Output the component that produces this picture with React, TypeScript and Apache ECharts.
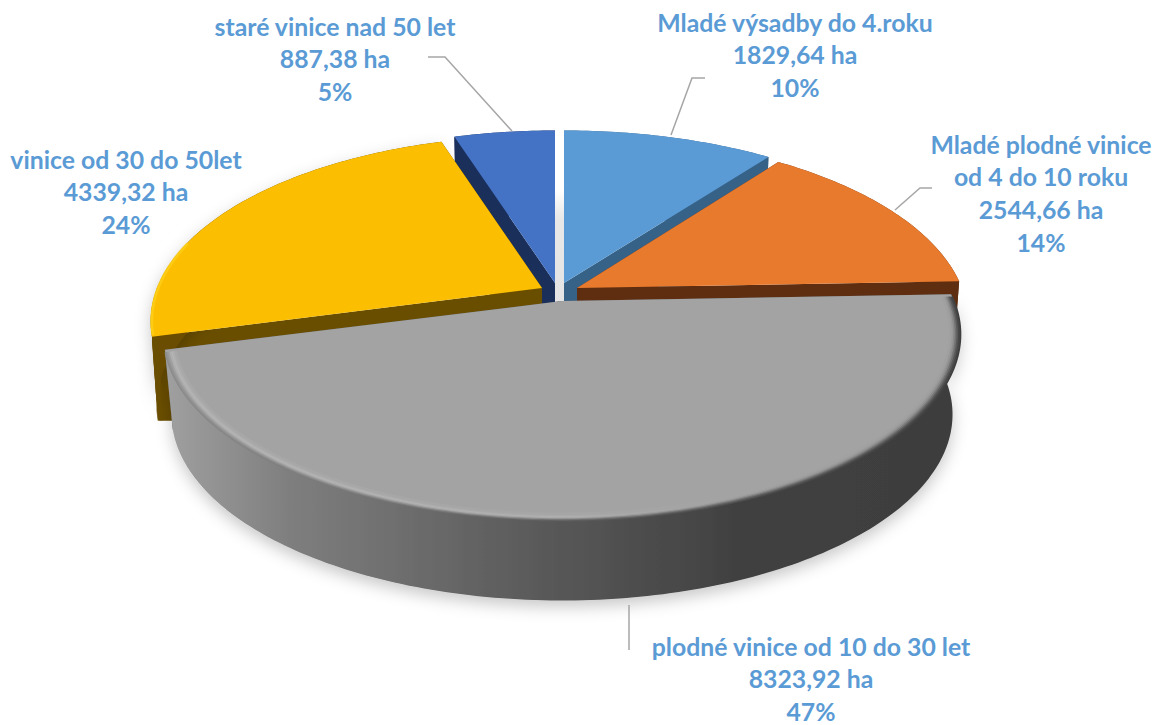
import React, { useEffect, useRef } from "react";
import * as echarts from "echarts";

const categories = [
  "Mladé výsadby do 4.roku",
  "Mladé plodné vinice\nod 4 do 10 roku",
  "plodné vinice od 10 do 30 let",
  "vinice od 30 do 50let",
  "staré vinice nad 50 let",
];
const hectares = [1829.64, 2544.66, 8323.92, 4339.32, 887.38];
const hectareLabels = ["1829,64 ha", "2544,66 ha", "8323,92 ha", "4339,32 ha", "887,38 ha"];
const percentLabels = ["10%", "14%", "47%", "24%", "5%"];

const W = 1161, H = 725;
const LABEL_COLOR = "#5b9bd5";
const LEADER = "#a6a6a6";
const k = 0.18;

type Layout = {
  cx: number; cy: number; a: number; b: number; depth: number; order: number; sx: number;
  top: string; wall: string; label: [number, number]; leader: number[][];
};
const layouts: Layout[] = [
  { cx: 564, cy: 283, a: 391, b: 180, depth: 84, order: 2, sx: 0.985, top: "#5b9bd5", wall: "#366288", label: [795, 22], leader: [[671, 135], [692, 78], [705, 78]] },
  { cx: 577, cy: 288, a: 385, b: 180, depth: 50, order: 3, sx: 0.99, top: "#e87a2e", wall: "#5f2e10", label: [1041, 144], leader: [[895, 210], [920, 188], [932, 188]] },
  { cx: 562, cy: 301, a: 392, b: 180, depth: 80, order: 5, sx: 0.98, top: "#a3a3a3", wall: "#555555", label: [811, 646], leader: [[629, 605], [629, 650]] },
  { cx: 542, cy: 288, a: 385, b: 180, depth: 84, order: 4, sx: 0.985, top: "#fbbe00", wall: "#6a4e00", label: [126, 159], leader: [] },
  { cx: 555, cy: 283, a: 385, b: 180, depth: 84, order: 1, sx: 0.985, top: "#4472c4", wall: "#1a2f5a", label: [335, 26], leader: [[512, 131], [445, 57], [428, 57]] },
];

const total = hectares.reduce((s, v) => s + v, 0);
const startAngles = hectares.map((_, i) => hectares.slice(0, i).reduce((s, v) => s + v, 0) / total * 360);

function project(l: Layout, deg: number, scale = 1, dy = 0, sx = 1): number[] {
  const t = (deg * Math.PI) / 180;
  const u = Math.sin(t) * scale, v = Math.cos(t) * scale;
  const d = 1 + k * v;
  return [l.cx + (l.a * u * sx) / d, l.cy - (l.b * v) / d + dy];
}
function arc(l: Layout, a0: number, a1: number, scale = 1, dy = 0, sx = 1): number[][] {
  const n = Math.max(2, Math.ceil(Math.abs(a1 - a0)));
  const pts: number[][] = [];
  for (let i = 0; i <= n; i++) pts.push(project(l, a0 + ((a1 - a0) * i) / n, scale, dy, sx));
  return pts;
}
const grad = (x0: number, x1: number, stops: [number, string][]) =>
  new echarts.graphic.LinearGradient(x0, 0, x1, 0, stops.map(([offset, color]) => ({ offset, color })), true);

function renderSlice(params: any, api: any) {
  const i = params.dataIndex;
  const l = layouts[i];
  const a0 = startAngles[i];
  const a1 = a0 + (api.value(0) / total) * 360;
  const base = l.order * 100;
  const children: any[] = [];
  const apex = [l.cx, l.cy];
  const apexLow = [l.cx, l.cy + l.depth];
  const isGray = i === 2;

  const ringTop = arc(l, a0, a1);
  const ringBot = arc(l, a0, a1, 1, l.depth, l.sx);
  const last = ringTop.length - 1;
  const wallStyle = { fill: l.wall };
  children.push({ type: "polygon", z2: base, shape: { points: [apex, ringTop[0], ringBot[0], apexLow] }, style: wallStyle });
  children.push({ type: "polygon", z2: base, shape: { points: [apex, ringTop[last], ringBot[last], apexLow] }, style: wallStyle });

  const sideFill = isGray
    ? grad(165, 955, [[0, "#a0a0a0"], [0.16, "#7e7e7e"], [0.45, "#5c5c5c"], [0.72, "#414141"], [1, "#3d3d3d"]])
    : l.wall;
  const sideStyle: any = { fill: sideFill };
  if (isGray || i === 3) {
    sideStyle.shadowBlur = 16;
    sideStyle.shadowColor = "rgba(0,0,0,0.22)";
    sideStyle.shadowOffsetY = 6;
  }
  children.push({ type: "polygon", z2: base + 1, shape: { points: ringTop.concat(ringBot.slice().reverse()) }, style: sideStyle });
  children.push({ type: "polygon", z2: base + 2, shape: { points: [apex, ...ringTop] }, style: { fill: l.top } });

  if (isGray) {
    const rims: [number, string, string, string][] = [
      [0.999, "#8d8d8d", "#5a5a5a", "#3f3f3f"],
      [0.995, "#959595", "#6e6e6e", "#484848"],
      [0.991, "#a0a0a0", "#8c8c8c", "#5a5a5a"],
      [0.987, "#aeaeae", "#a8a8a8", "#727272"],
      [0.983, "#b4b4b4", "#b0b0b0", "#8a8a8a"],
      [0.979, "#adadad", "#abaaaa", "#989898"],
      [0.975, "#a8a8a8", "#a6a6a6", "#a0a0a0"],
    ];
    rims.forEach(([s, left, mid, right], j) => {
      children.push({
        type: "polyline", z2: base + 3 + j,
        shape: { points: arc(l, a0 + 0.8, a1 - 0.8, s) },
        style: { fill: "none", stroke: grad(165, 955, [[0, left], [0.5, mid], [1, right]]), lineWidth: 2.5 },
      });
    });
  }
  if (i === 3) {
    children.push({
      type: "polyline", z2: base + 3,
      shape: { points: arc(l, a0 + 0.5, a0 + 30, 0.997) },
      style: { fill: "none", stroke: "#ffd21a", lineWidth: 3, opacity: 0.7 },
    });
    const foot = ringBot[0];
    children.push({
      type: "polyline", z2: base + 1,
      shape: { points: [[ringTop[0][0] + 3, ringTop[0][1] + 4], [foot[0] + 3, foot[1] - 3], [foot[0] + 17, foot[1] - 3]] },
      style: { fill: "none", stroke: l.wall, lineWidth: 6, lineJoin: "round", lineCap: "round" },
    });
  }
  return { type: "group", children };
}

export default function App() {
  const ref = useRef<HTMLDivElement>(null);
  useEffect(() => {
    document.body.style.margin = "0";
    const chart = echarts.init(ref.current!, undefined, { renderer: "svg" });
    const graphics: any[] = [
      {
        type: "rect", z: 0, shape: { x: 555, y: 190, width: 10, height: 112 },
        style: {
          fill: new echarts.graphic.LinearGradient(0, 0, 0, 1, [
            { offset: 0, color: "#ffffff" }, { offset: 0.25, color: "#e8e8e8" }, { offset: 1, color: "#e4e4e4" },
          ]),
        },
      },
    ];
    layouts.forEach((l, i) => {
      if (l.leader.length) {
        graphics.push({
          type: "polyline", z: 10, shape: { points: l.leader },
          style: { fill: "none", stroke: LEADER, lineWidth: 1.5 },
        });
      }
      const lines = [...categories[i].split("\n"), hectareLabels[i], percentLabels[i]];
      lines.forEach((text, j) => {
        graphics.push({
          type: "text", z: 11, x: l.label[0], y: l.label[1] + j * 32.7,
          style: {
            text, fill: LABEL_COLOR, align: "center", verticalAlign: "middle",
            font: 'bold 24.8px Lato, "Noto Sans", sans-serif',
          },
        });
      });
    });
    chart.setOption({
      animation: false,
      backgroundColor: "#ffffff",
      graphic: graphics,
      series: [{
        type: "custom",
        coordinateSystem: "none",
        renderItem: renderSlice,
        data: hectares,
        silent: true,
      }],
    });
    return () => chart.dispose();
  }, []);
  return <div ref={ref} style={{ width: W, height: H }} />;
}
